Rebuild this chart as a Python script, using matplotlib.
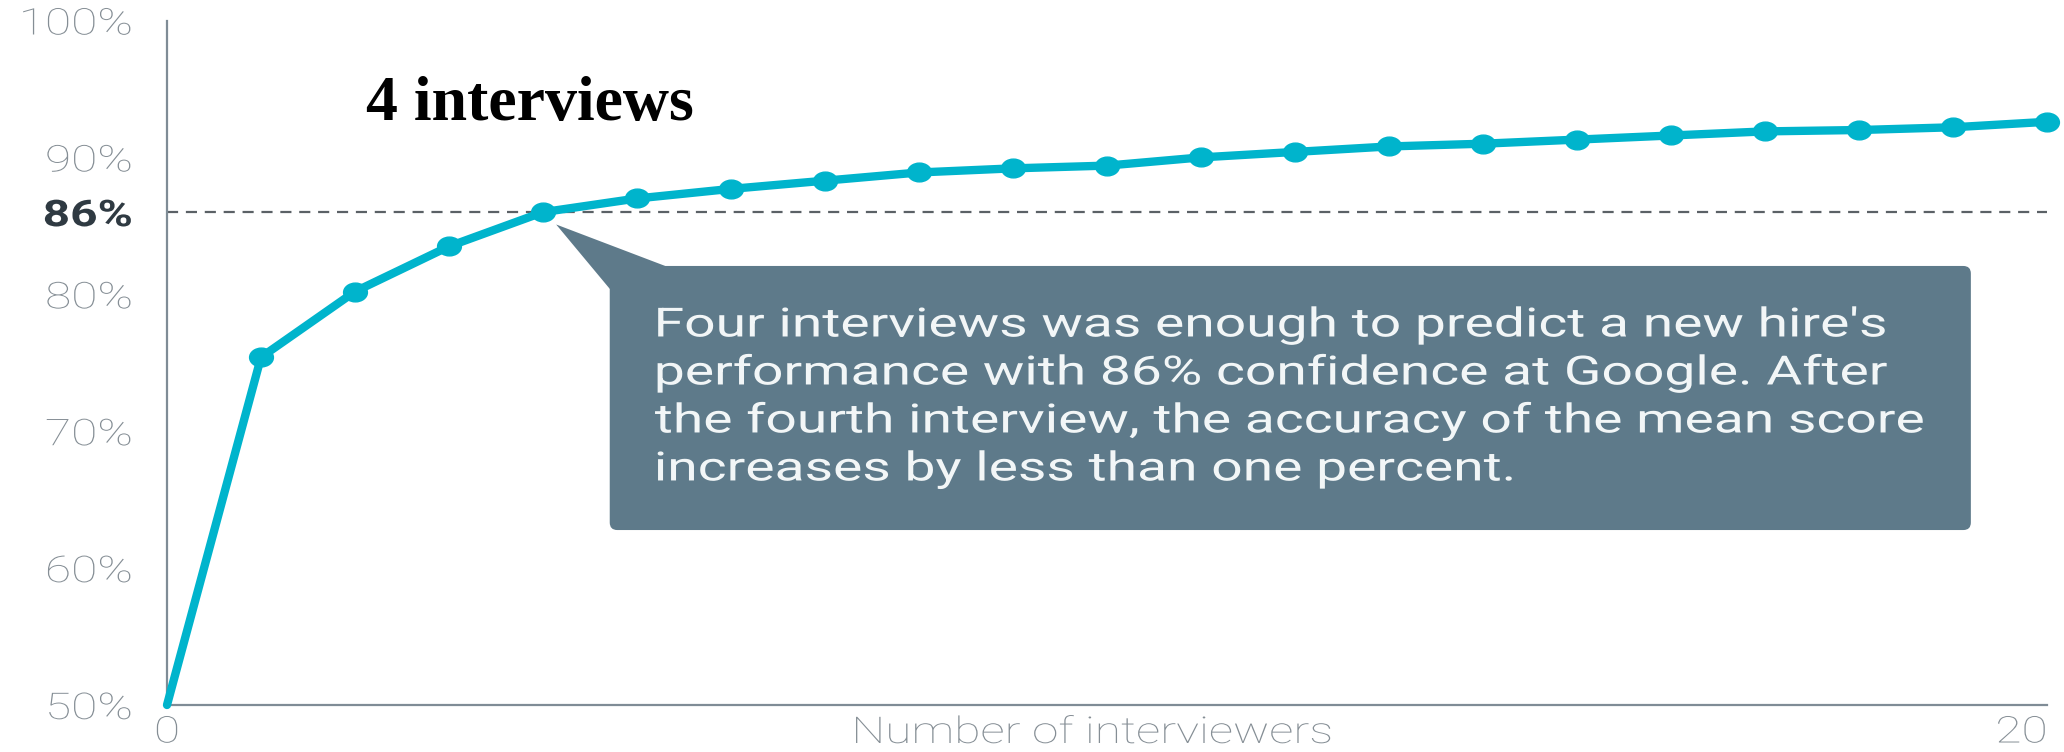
import matplotlib
matplotlib.use("Agg")
import numpy as np
import matplotlib.pyplot as plt
from matplotlib.patches import FancyBboxPatch, Polygon
from matplotlib.patheffects import AbstractPathEffect
from matplotlib.markers import MarkerStyle
from matplotlib.transforms import Affine2D

# data
interviewers = list(range(21))
accuracy = [50.0, 75.4, 80.2, 83.5, 86.0, 87.0, 87.7, 88.3, 88.9, 89.2, 89.4,
            90.0, 90.4, 90.8, 91.0, 91.3, 91.6, 91.9, 92.0, 92.2, 92.6]
y_ticks = [50, 60, 70, 80, 86, 90, 100]
y_labels = ["50%", "60%", "70%", "80%", "86%", "90%", "100%"]
x_ticks = [0, 20]
x_labels = ["0", "20"]
threshold = 86

callout = ("Four interviews was enough to predict a new hire's\n"
           "performance with 86% confidence at Google. After\n"
           "the fourth interview, the accuracy of the mean score\n"
           "increases by less than one percent.")

CYAN = "#00b4cc"
SLATE = "#5e7a8a"
AXIS = "#7f8c96"
GREY = "#858e95"


# the source graphic is stretched sideways, so widen the glyphs the same way
class Stretch(AbstractPathEffect):
    def __init__(self, sx, anchor="left"):
        super().__init__()
        self.sx = sx
        self.anchor = anchor

    def draw_path(self, renderer, gc, tpath, affine, rgbFace=None):
        ext = affine.transform_path(tpath).get_extents()
        if not np.isfinite(ext.x0):
            return
        x0 = {"left": ext.x0, "right": ext.x1}.get(self.anchor, (ext.x0 + ext.x1) / 2)
        affine = affine + Affine2D().translate(-x0, 0).scale(self.sx, 1).translate(x0, 0)
        renderer.draw_path(gc, tpath, affine, rgbFace)


plt.rcParams["font.family"] = ["Roboto", "DejaVu Sans"]

W, H = 2064, 752
fig = plt.figure(figsize=(W / 100, H / 100), dpi=100)
ax = fig.add_axes([167 / W, 47 / H, 1880 / W, 684.5 / H])

### line with markers
dot = MarkerStyle("o", transform=Affine2D().scale(1.27, 1))
ax.plot(interviewers, accuracy, color=CYAN, lw=6, marker=dot, ms=13.5,
        markevery=list(range(1, 21)), clip_on=False,
        solid_joinstyle="round", solid_capstyle="round", zorder=4)

### 86% reference line
ax.axhline(threshold, color="#5b6166", lw=1.6, dashes=(5, 3.5), zorder=2)

ax.set_xlim(0, 20)
ax.set_ylim(50, 100)
for s in ["top", "right"]:
    ax.spines[s].set_visible(False)
for s in ["left", "bottom"]:
    ax.spines[s].set_color(AXIS)
    ax.spines[s].set_linewidth(1.6)

ax.set_yticks(y_ticks)
ax.set_yticklabels(y_labels, fontsize=26.5, color=GREY, fontweight="light")
ax.set_xticks(x_ticks)
ax.set_xticklabels(x_labels, fontsize=26.5, color=GREY, fontweight="light")
ax.tick_params(axis="y", length=0, pad=25)
ax.tick_params(axis="x", length=0, pad=27)
ylabs = ax.get_yticklabels()
for lab in ylabs:
    lab.set_path_effects([Stretch(1.3, "right")])
ylabs[4].set_color("#2f3a42")
ylabs[4].set_fontweight("bold")
xlabs = ax.get_xticklabels()
for lab in xlabs:
    lab.set_verticalalignment("baseline")
xlabs[0].set_path_effects([Stretch(1.3, "center")])
xlabs[1].set_horizontalalignment("right")
xlabs[1].set_path_effects([Stretch(1.3, "right")])

ax.set_xlabel("Number of interviewers", fontsize=26.5, color=GREY, fontweight="light")
ax.xaxis.label.set_verticalalignment("baseline")
ax.xaxis.label.set_path_effects([Stretch(1.3, "center")])
ax.xaxis.set_label_coords(0.492, -0.0555)

### callout box
box = FancyBboxPatch((4.71, 62.78), 19.19 - 4.71, 82.07 - 62.78,
                     boxstyle="round,pad=0,rounding_size=0.08",
                     mutation_aspect=94 / 13.69, fc=SLATE, ec="none", zorder=3)
ax.add_patch(box)
ax.add_patch(Polygon([(4.14, 85.1), (4.71, 80.4), (5.3, 82.07)],
                     closed=True, fc=SLATE, ec="none", zorder=3))
ax.text(5.19, 72.5, callout, ha="left", va="center", fontsize=29,
        color="#f2f6f7", linespacing=1.29, zorder=5,
        path_effects=[Stretch(1.37, "left")])

ax.text(2.12, 93.83, "4 interviews", ha="left", va="center",
        family=["Liberation Serif", "DejaVu Serif"], fontweight="bold",
        fontsize=46, color="black", zorder=5)

fig.savefig("out.png", dpi=100)
